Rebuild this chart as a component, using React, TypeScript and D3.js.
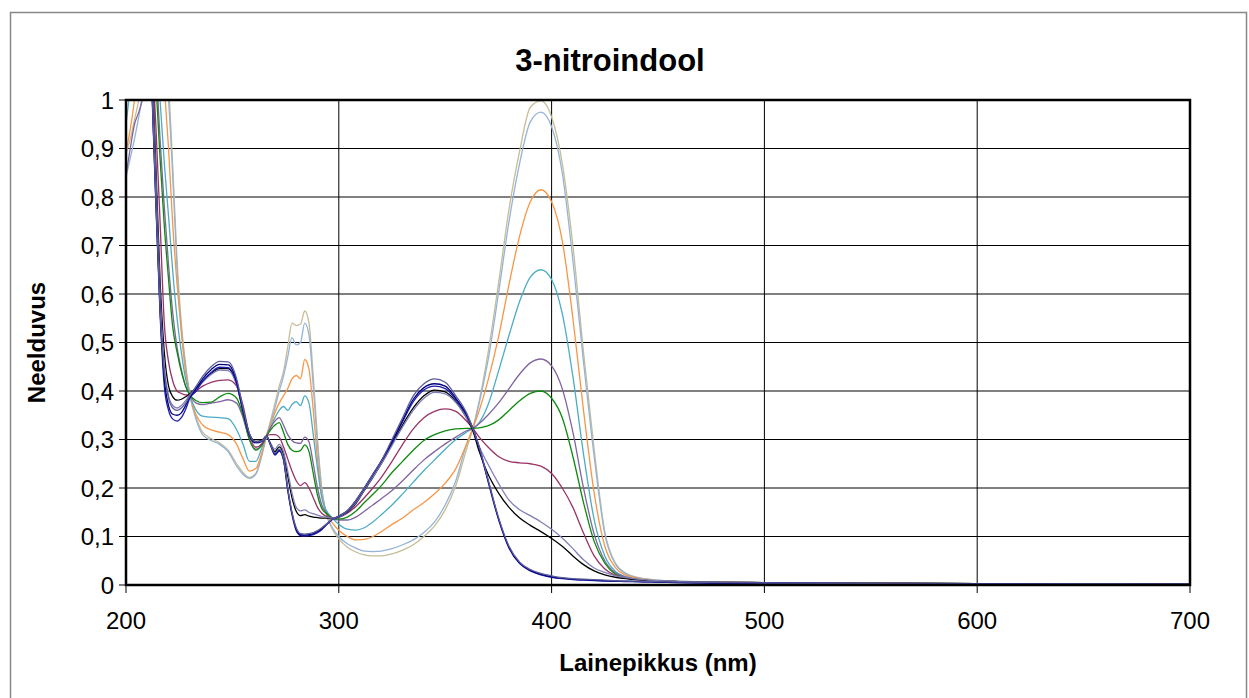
import * as d3 from "d3";

// wavelength grid (nm) shared by every spectrum
const wavelengths = [
  200, 202, 204, 206, 208, 210, 212, 214, 216, 218, 220, 222, 224, 226, 228, 230,
  233, 236, 240, 244, 248, 252, 255, 258, 261, 264,
  266, 268, 270, 272, 274, 276, 278, 280, 282, 284, 286, 288, 290, 292,
  294, 297, 300, 304, 308, 312, 316, 320,
  325, 330, 335, 340, 345, 350, 355, 360,
  363, 366, 370,
  375, 380, 385, 390, 395, 400, 405, 410, 415, 420, 425, 430, 435, 440,
  450, 460, 480, 500, 550, 600, 650, 700,
];

const tan = [
  0.89, 0.92, 0.96, 1.0, 1.06, 1.15, 1.22, 1.25, 1.2, 1.12, 1.03, 0.86, 0.67, 0.54, 0.455, 0.392,
  0.345, 0.315, 0.302, 0.293, 0.278, 0.25, 0.232, 0.222, 0.23, 0.272,
  0.307, 0.34, 0.375, 0.41, 0.44, 0.49, 0.54, 0.535, 0.538, 0.565, 0.54, 0.43, 0.3, 0.2,
  0.15, 0.115, 0.095, 0.078, 0.068, 0.062, 0.06, 0.06,
  0.064, 0.072, 0.083, 0.1, 0.122, 0.155, 0.205, 0.28,
  0.323, 0.38, 0.475,
  0.62, 0.775, 0.895, 0.985, 0.998, 0.965, 0.87, 0.7, 0.48, 0.28, 0.11, 0.045, 0.024, 0.016,
  0.01, 0.008, 0.006, 0.005, 0.004, 0.003, 0.002, 0.001,
];
const lightBlue = [
  0.84, 0.88, 0.92, 0.965, 1.02, 1.1, 1.2, 1.22, 1.17, 1.1, 1.0, 0.84, 0.65, 0.53, 0.45, 0.392,
  0.34, 0.31, 0.298, 0.29, 0.275, 0.245, 0.228, 0.22, 0.228, 0.27,
  0.307, 0.335, 0.365, 0.4, 0.43, 0.47, 0.51, 0.495, 0.5, 0.54, 0.515, 0.41, 0.29, 0.195,
  0.148, 0.118, 0.1, 0.085, 0.076, 0.07, 0.069, 0.07,
  0.075, 0.083, 0.093, 0.108, 0.13, 0.165, 0.215, 0.29,
  0.323, 0.375, 0.46,
  0.6, 0.75, 0.87, 0.955, 0.975, 0.945, 0.85, 0.67, 0.46, 0.265, 0.105, 0.043, 0.023, 0.015,
  0.01, 0.008, 0.006, 0.005, 0.004, 0.003, 0.002, 0.001,
];
const orange = [
  0.893, 0.94, 1.0, 1.08, 1.2, 1.3, 1.32, 1.25, 1.14, 1.03, 0.9, 0.74, 0.62, 0.52, 0.44, 0.392,
  0.35, 0.33, 0.32, 0.315, 0.31, 0.29, 0.26, 0.235, 0.24, 0.275,
  0.307, 0.33, 0.355, 0.375, 0.39, 0.405, 0.425, 0.432, 0.425, 0.465, 0.445, 0.36, 0.26, 0.185,
  0.15, 0.128, 0.113, 0.1, 0.093, 0.094, 0.1, 0.11,
  0.125, 0.138, 0.155, 0.17, 0.188, 0.21, 0.24, 0.29,
  0.323, 0.36, 0.42,
  0.51, 0.62, 0.72, 0.79, 0.815, 0.79, 0.71, 0.55, 0.36, 0.19, 0.08, 0.036, 0.02, 0.014,
  0.009, 0.007, 0.006, 0.005, 0.004, 0.003, 0.002, 0.001,
];
const cyan = [
  0.95, 1.03, 1.15, 1.3, 1.4, 1.4, 1.3, 1.15, 1.0, 0.87, 0.76, 0.645, 0.55, 0.48, 0.425, 0.392,
  0.36, 0.348, 0.346, 0.345, 0.343, 0.32, 0.29, 0.255, 0.255, 0.285,
  0.307, 0.325, 0.345, 0.36, 0.368, 0.36, 0.372, 0.378, 0.37, 0.39, 0.375, 0.31, 0.24, 0.18,
  0.155, 0.138, 0.125, 0.115, 0.113, 0.118, 0.13, 0.145,
  0.165, 0.188, 0.212, 0.236, 0.258, 0.28, 0.3, 0.315,
  0.323, 0.335, 0.37,
  0.44, 0.515, 0.585, 0.635, 0.65, 0.63, 0.56, 0.43, 0.27, 0.135, 0.06, 0.028, 0.017, 0.012,
  0.008, 0.007, 0.005, 0.005, 0.004, 0.003, 0.002, 0.001,
];
const purple = [
  0.845, 0.9, 0.95, 0.975, 1.01, 1.1, 1.2, 1.08, 0.92, 0.78, 0.66, 0.56, 0.49, 0.445, 0.41, 0.392,
  0.375, 0.372, 0.375, 0.378, 0.382, 0.375, 0.345, 0.3, 0.28, 0.29,
  0.307, 0.325, 0.338, 0.345, 0.33, 0.31, 0.298, 0.293, 0.292, 0.305, 0.295, 0.25, 0.2, 0.165,
  0.15, 0.138, 0.134, 0.134, 0.14, 0.152, 0.165, 0.178,
  0.195, 0.215, 0.237, 0.258, 0.275, 0.291, 0.305, 0.318,
  0.323, 0.333, 0.35,
  0.375, 0.405, 0.435, 0.458, 0.466, 0.452, 0.405, 0.315, 0.2, 0.105, 0.05, 0.025, 0.016, 0.012,
  0.008, 0.007, 0.005, 0.005, 0.004, 0.003, 0.002, 0.001,
];
const green = [
  1.1, 1.2, 1.35, 1.45, 1.5, 1.4, 1.22, 1.04, 0.88, 0.74, 0.63, 0.53, 0.48, 0.44, 0.41, 0.392,
  0.38, 0.376, 0.377, 0.388, 0.395, 0.385, 0.35, 0.3, 0.278, 0.29,
  0.307, 0.32, 0.33, 0.335, 0.315, 0.29, 0.278, 0.275, 0.277, 0.289, 0.275, 0.23, 0.185, 0.158,
  0.148, 0.138, 0.136, 0.14, 0.152, 0.17, 0.187, 0.205,
  0.232, 0.255, 0.278, 0.298, 0.31, 0.318, 0.322, 0.323,
  0.323, 0.324, 0.328,
  0.34, 0.36, 0.38, 0.395, 0.4, 0.385, 0.345, 0.265, 0.17, 0.09, 0.045, 0.022, 0.014, 0.011,
  0.008, 0.006, 0.005, 0.004, 0.004, 0.003, 0.002, 0.001,
];
const magenta = [
  1.1, 1.2, 1.3, 1.4, 1.4, 1.3, 1.12, 0.95, 0.75, 0.54, 0.46, 0.42, 0.4, 0.395, 0.392, 0.392,
  0.4, 0.41, 0.418, 0.422, 0.423, 0.41, 0.37, 0.31, 0.284, 0.292,
  0.307, 0.31, 0.31, 0.305, 0.285, 0.26, 0.235, 0.215, 0.205, 0.211, 0.2, 0.18, 0.16, 0.148,
  0.142, 0.138, 0.14, 0.148, 0.162, 0.18, 0.2, 0.222,
  0.255, 0.29, 0.322, 0.345, 0.358, 0.363, 0.358, 0.338,
  0.323, 0.305, 0.285,
  0.265, 0.255, 0.252, 0.25, 0.245, 0.23, 0.2, 0.16, 0.107, 0.06, 0.033, 0.02, 0.014, 0.011,
  0.008, 0.006, 0.005, 0.004, 0.004, 0.003, 0.002, 0.001,
];
const slate = [
  1.1, 1.2, 1.35, 1.45, 1.45, 1.3, 1.08, 0.84, 0.6, 0.45, 0.39, 0.37, 0.365, 0.37, 0.38, 0.392,
  0.405, 0.418, 0.434, 0.443, 0.442, 0.412, 0.358, 0.31, 0.295, 0.298,
  0.307, 0.292, 0.28, 0.29, 0.275, 0.235, 0.19, 0.16, 0.153, 0.155, 0.15, 0.147, 0.144, 0.141,
  0.14, 0.138, 0.14, 0.151, 0.17, 0.196, 0.223, 0.25,
  0.288, 0.326, 0.36, 0.385, 0.397, 0.394, 0.376, 0.345,
  0.322, 0.285, 0.25,
  0.21, 0.175, 0.155, 0.143, 0.13, 0.115, 0.097, 0.075, 0.052, 0.035, 0.026, 0.019, 0.015, 0.012,
  0.009, 0.007, 0.006, 0.005, 0.004, 0.003, 0.002, 0.001,
];
const black = [
  1.1, 1.2, 1.35, 1.45, 1.45, 1.3, 1.1, 0.87, 0.63, 0.48, 0.41, 0.388, 0.381, 0.383, 0.388, 0.394,
  0.407, 0.42, 0.436, 0.446, 0.446, 0.415, 0.36, 0.312, 0.296, 0.299,
  0.307, 0.29, 0.275, 0.285, 0.27, 0.225, 0.18, 0.152, 0.143, 0.145, 0.142, 0.14, 0.139, 0.138,
  0.138, 0.137, 0.14, 0.15, 0.168, 0.195, 0.222, 0.25,
  0.29, 0.33, 0.365, 0.39, 0.402, 0.398, 0.378, 0.345,
  0.318, 0.275, 0.23,
  0.19, 0.16, 0.138, 0.123, 0.11, 0.096, 0.08, 0.06, 0.042, 0.029, 0.021, 0.016, 0.013, 0.011,
  0.008, 0.007, 0.006, 0.005, 0.004, 0.003, 0.002, 0.001,
];
const grayNavy = [
  1.15, 1.25, 1.4, 1.5, 1.5, 1.3, 1.05, 0.8, 0.57, 0.44, 0.385, 0.365, 0.36, 0.365, 0.375, 0.39,
  0.41, 0.43, 0.45, 0.461, 0.46, 0.425, 0.365, 0.312, 0.295, 0.297,
  0.307, 0.288, 0.272, 0.28, 0.262, 0.2, 0.15, 0.118, 0.106, 0.105, 0.106, 0.108, 0.112, 0.118,
  0.125, 0.136, 0.142, 0.153, 0.174, 0.2, 0.228, 0.256,
  0.3, 0.345, 0.39, 0.415, 0.425, 0.418, 0.39, 0.355,
  0.323, 0.285, 0.22,
  0.14, 0.08, 0.047, 0.032, 0.024, 0.019, 0.015, 0.013, 0.012, 0.011, 0.01, 0.009, 0.008, 0.008,
  0.007, 0.006, 0.005, 0.004, 0.003, 0.002, 0.002, 0.001,
];
const navy = [
  1.15, 1.25, 1.4, 1.5, 1.5, 1.3, 1.05, 0.8, 0.57, 0.425, 0.37, 0.352, 0.35, 0.355, 0.37, 0.388,
  0.405, 0.425, 0.444, 0.455, 0.454, 0.42, 0.36, 0.31, 0.294, 0.297,
  0.307, 0.288, 0.27, 0.278, 0.26, 0.198, 0.148, 0.115, 0.104, 0.103, 0.104, 0.106, 0.11, 0.116,
  0.124, 0.136, 0.142, 0.153, 0.174, 0.2, 0.228, 0.256,
  0.296, 0.34, 0.383, 0.407, 0.415, 0.41, 0.385, 0.352,
  0.323, 0.283, 0.218,
  0.138, 0.078, 0.045, 0.03, 0.022, 0.017, 0.014, 0.012, 0.011, 0.01, 0.009, 0.008, 0.008, 0.007,
  0.006, 0.005, 0.004, 0.004, 0.003, 0.002, 0.001, 0.001,
];
const blue = [
  1.15, 1.25, 1.4, 1.5, 1.5, 1.3, 1.04, 0.79, 0.56, 0.41, 0.36, 0.342, 0.338, 0.345, 0.362, 0.385,
  0.4, 0.42, 0.438, 0.449, 0.448, 0.415, 0.357, 0.308, 0.293, 0.296,
  0.307, 0.287, 0.268, 0.276, 0.258, 0.195, 0.145, 0.112, 0.102, 0.101, 0.102, 0.104, 0.108, 0.114,
  0.123, 0.135, 0.141, 0.152, 0.173, 0.199, 0.227, 0.255,
  0.294, 0.337, 0.378, 0.402, 0.41, 0.405, 0.382, 0.35,
  0.322, 0.282, 0.216,
  0.136, 0.076, 0.044, 0.029, 0.021, 0.016, 0.013, 0.011, 0.01, 0.009, 0.008, 0.008, 0.007, 0.007,
  0.006, 0.005, 0.004, 0.003, 0.003, 0.002, 0.001, 0.001,
];

const spectra = [
  { values: tan, color: "#C4BD97" },
  { values: lightBlue, color: "#95B3D7" },
  { values: orange, color: "#F79646" },
  { values: cyan, color: "#4BACC6" },
  { values: purple, color: "#8064A2" },
  { values: green, color: "#0E8A0E" },
  { values: magenta, color: "#993366" },
  { values: black, color: "#000000" },
  { values: slate, color: "#8080B8" },
  { values: blue, color: "#1C1CB0" },
  { values: navy, color: "#00007F" },
  { values: grayNavy, color: "#5C5C99" },
];

const xTicks = [200, 300, 400, 500, 600, 700];
const yTicks = [0, 0.1, 0.2, 0.3, 0.4, 0.5, 0.6, 0.7, 0.8, 0.9, 1];

const width = 1249;
const height = 698;
const left = 126, right = 1190, top = 100, bottom = 585;
const font = "'Liberation Sans', Arial, sans-serif";

const etLocale = d3.formatLocale({ decimal: ",", thousands: " ", grouping: [3], currency: ["", ""] });
const fmt = etLocale.format("~g");

export default function App() {
  const x = d3.scaleLinear([200, 700], [left, right]);
  const y = d3.scaleLinear([0, 1], [bottom, top]);
  const line = d3
    .line<number>()
    .x((d, i) => x(wavelengths[i]))
    .y((d) => y(d))
    .curve(d3.curveMonotoneX);

  return (
    <svg
      width={width}
      height={height}
      style={{ position: "absolute", left: 0, top: 0, display: "block", background: "#fff" }}
      fontFamily={font}
    >
      <defs>
        <clipPath id="plot">
          <rect x={left} y={top} width={right - left} height={bottom - top} />
        </clipPath>
      </defs>
      <rect x={10.5} y={12.5} width={1236} height={700} fill="#fff" stroke="#888" strokeWidth={1.5} />

      <text x={610} y={71} textAnchor="middle" fontSize={31} fontWeight="bold">
        3-nitroindool
      </text>

      {/* grid */}
      <g stroke="#000" strokeWidth={1}>
        {yTicks.slice(1, -1).map((t) => (
          <line key={t} x1={left} x2={right} y1={y(t)} y2={y(t)} />
        ))}
        {xTicks.slice(1, -1).map((t) => (
          <line key={t} x1={x(t)} x2={x(t)} y1={top} y2={bottom} />
        ))}
      </g>

      <g clipPath="url(#plot)" fill="none" strokeWidth={1.3}>
        {spectra.map((s, i) => (
          <path key={i} d={line(s.values) ?? ""} stroke={s.color} />
        ))}
      </g>

      {/* frame and axes */}
      <rect x={left} y={top} width={right - left} height={bottom - top} fill="none" stroke="#000" strokeWidth={2.5} />
      <g stroke="#000" strokeWidth={1}>
        {yTicks.map((t) => (
          <line key={t} x1={left - 7} x2={left} y1={y(t)} y2={y(t)} />
        ))}
        {xTicks.map((t) => (
          <line key={t} x1={x(t)} x2={x(t)} y1={bottom} y2={bottom + 8} />
        ))}
      </g>
      <g fontSize={24} fill="#000">
        {yTicks.map((t) => (
          <text key={t} x={left - 12} y={y(t)} dy="0.36em" textAnchor="end">
            {fmt(t)}
          </text>
        ))}
        {xTicks.map((t) => (
          <text key={t} x={x(t)} y={629} textAnchor="middle">
            {fmt(t)}
          </text>
        ))}
      </g>

      <text x={658} y={671} textAnchor="middle" fontSize={24} fontWeight="bold">
        Lainepikkus (nm)
      </text>
      <text
        transform={`translate(45,${(top + bottom) / 2}) rotate(-90)`}
        textAnchor="middle"
        fontSize={24}
        fontWeight="bold"
      >
        Neelduvus
      </text>
    </svg>
  );
}
